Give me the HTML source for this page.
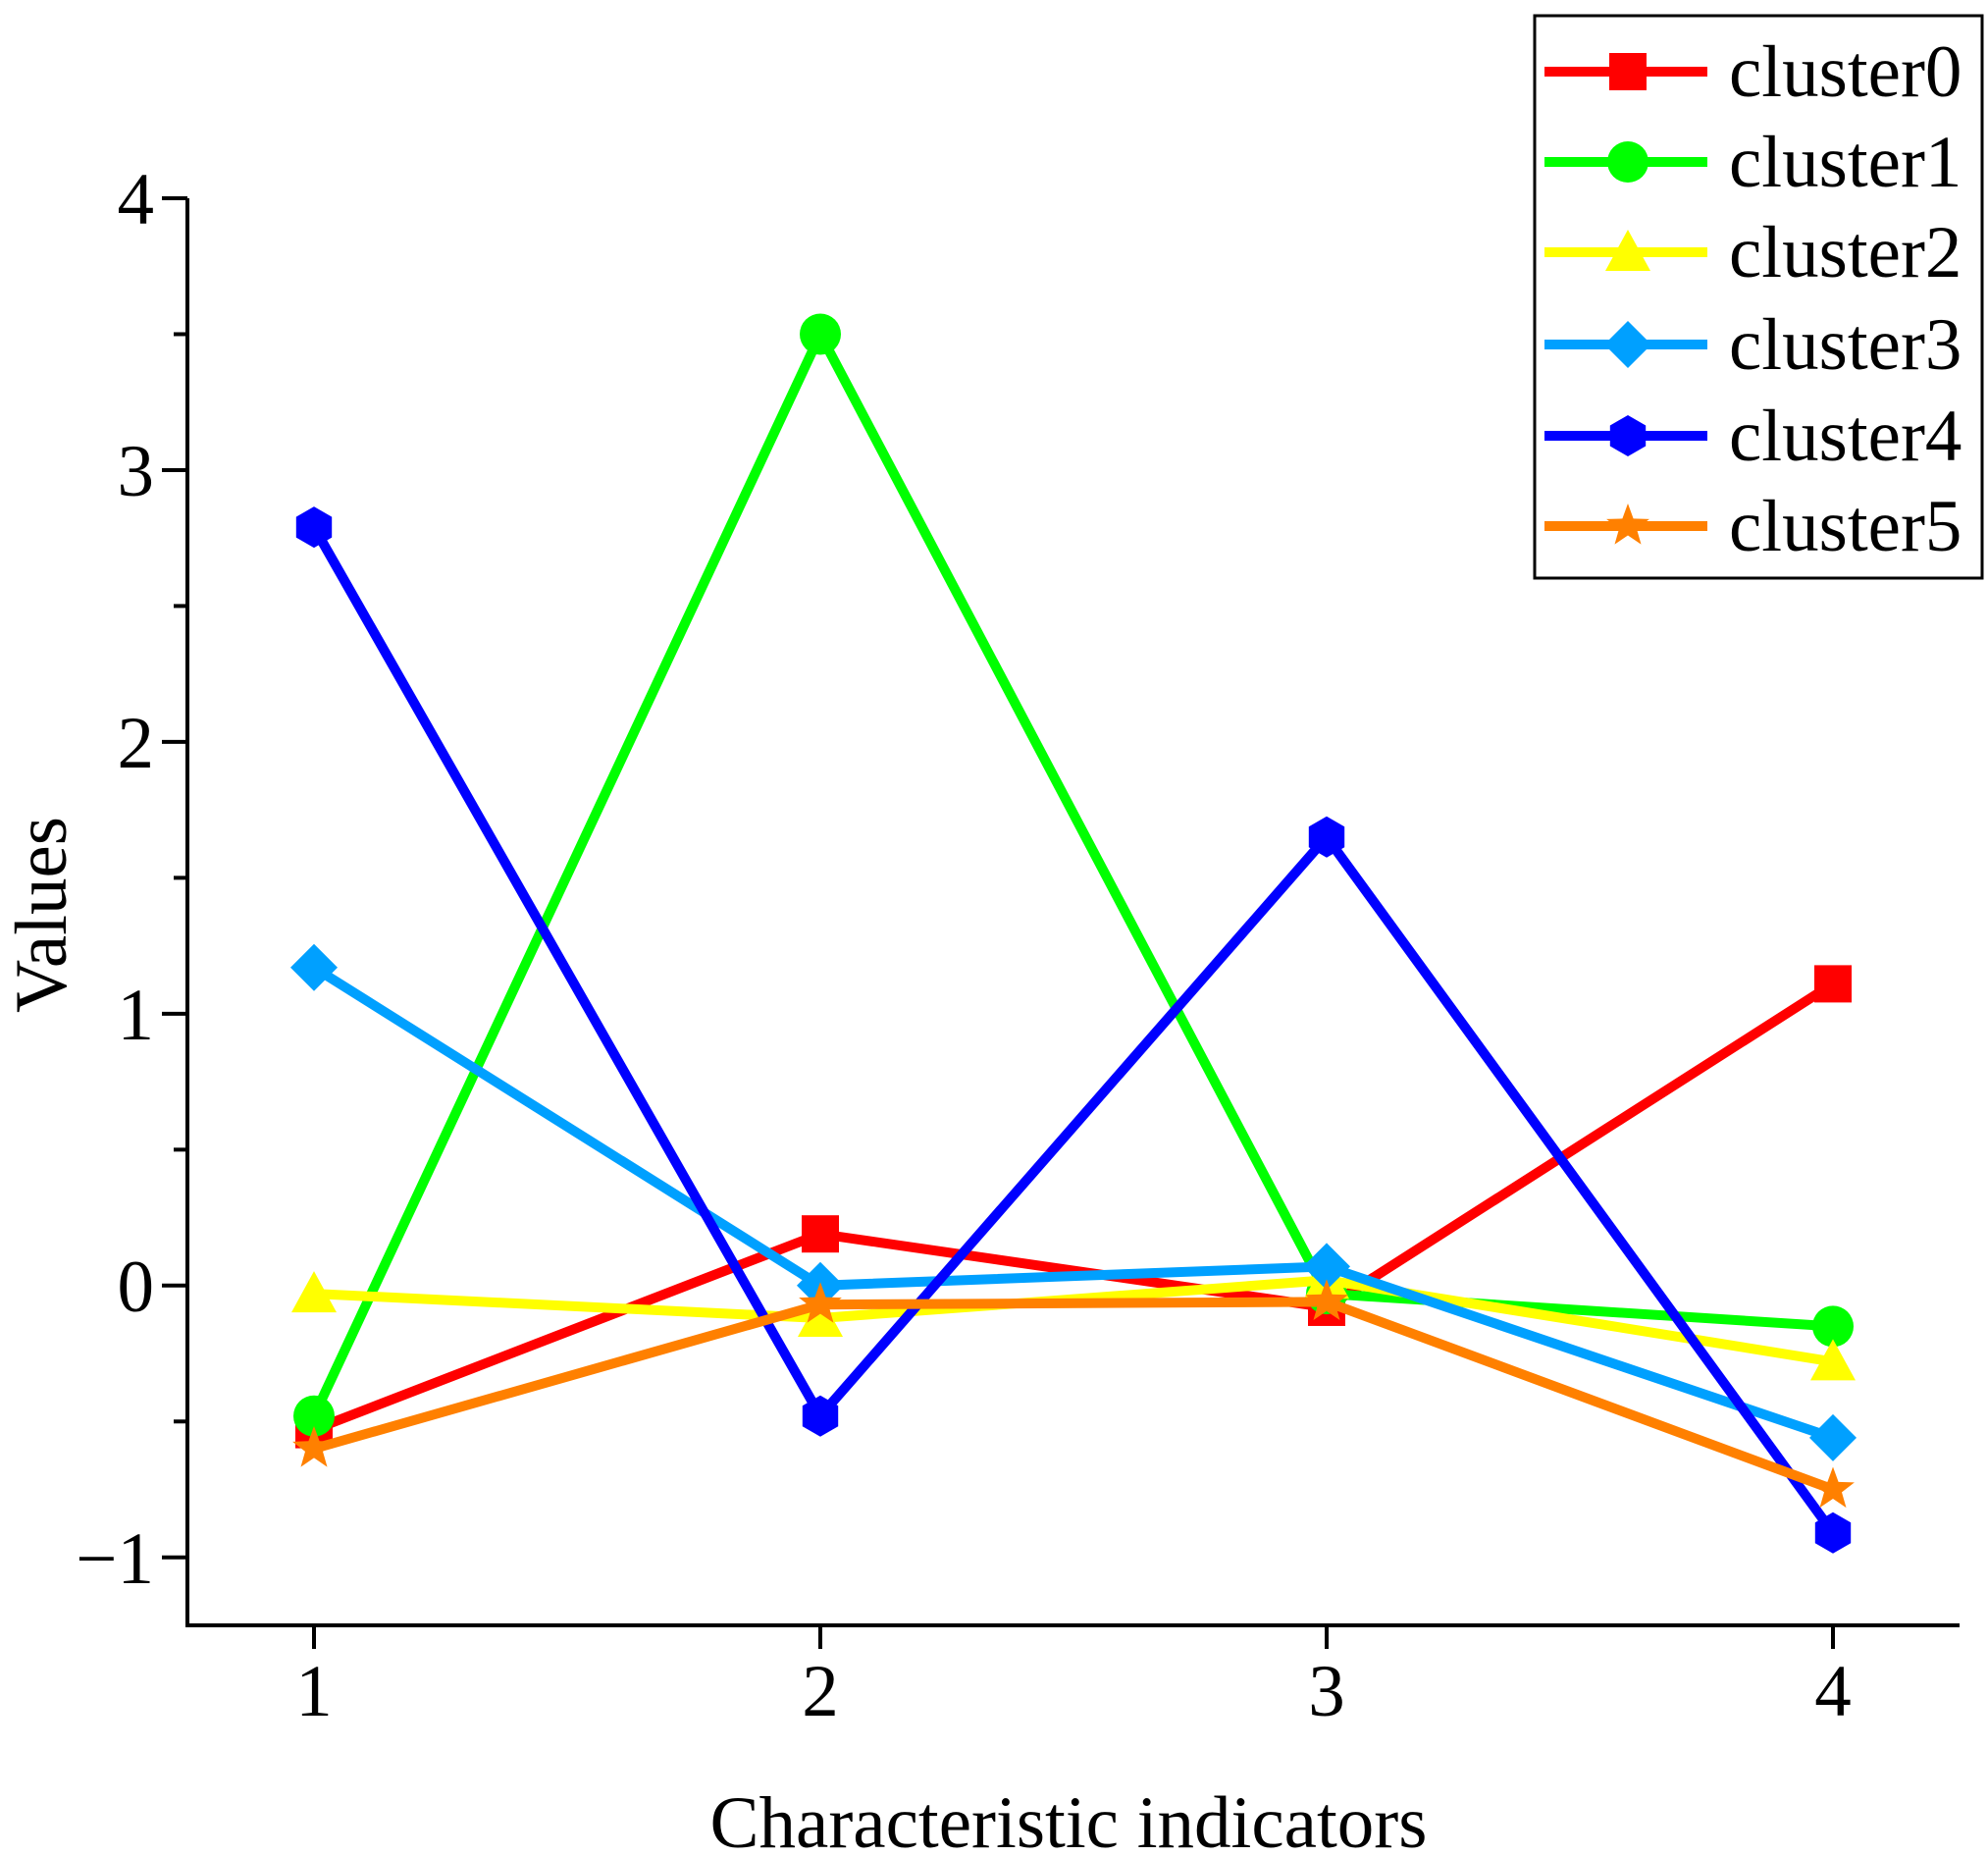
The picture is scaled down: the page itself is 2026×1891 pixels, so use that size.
<!DOCTYPE html>
<html><head><meta charset="utf-8"><style>
html,body{margin:0;padding:0;background:#fff}
svg{display:block;font-family:"Liberation Serif",serif}
</style></head><body>
<svg id="chart" width="2026" height="1891" viewBox="0 0 2026 1891" xmlns="http://www.w3.org/2000/svg">
<g id="axes"></g>
<g id="series"></g>
<g id="legend"></g>
</svg>
<script>
const categories = [1, 2, 3, 4];
const seriesNames = ["cluster0","cluster1","cluster2","cluster3","cluster4","cluster5"];
const cluster0 = [-0.53, 0.19, -0.08, 1.11];
const cluster1 = [-0.48, 3.50, -0.03, -0.15];
const cluster2 = [-0.03, -0.12, 0.02, -0.28];
const cluster3 = [1.17, 0.00, 0.07, -0.56];
const cluster4 = [2.79, -0.48, 1.65, -0.91];
const cluster5 = [-0.60, -0.07, -0.06, -0.75];
const yTicks = [-1, 0, 1, 2, 3, 4];
const yTickLabels = ["\u22121", "0", "1", "2", "3", "4"];
const yMinorTicks = [-0.5, 0.5, 1.5, 2.5, 3.5];
const xTickLabels = ["1", "2", "3", "4"];

const seriesData = [cluster0, cluster1, cluster2, cluster3, cluster4, cluster5];
const colors = ["#ff0000","#00ff00","#ffff00","#00a0ff","#0000ff","#ff8000"];
const markers = ["square","circle","triangle","diamond","hexagon","star"];
const NS = "http://www.w3.org/2000/svg";
const L = 191, R = 1997, T = 202, B = 1656;
const xMin = 0.75, xMax = 4.25, yMin = -1.25, yMax = 4;
function xs(v){ return L + (v - xMin) / (xMax - xMin) * (R - L); }
function ys(v){ return B - (v - yMin) / (yMax - yMin) * (B - T); }
function mk(tag, attrs, parent){ const e = document.createElementNS(NS, tag); for (const k in attrs) e.setAttribute(k, attrs[k]); parent.appendChild(e); return e; }

const axes = document.getElementById("axes");
let e = mk("line", {x1:L, y1:T, x2:L, y2:B, stroke:"#000", "stroke-width":4}, axes);


e = mk("line", {x1:L-2, y1:B, x2:R, y2:B, stroke:"#000", "stroke-width":4}, axes);


yTicks.forEach((v, i) => {
  const t = mk("line", {x1:L-26, y1:ys(v), x2:L, y2:ys(v), stroke:"#000", "stroke-width":4}, axes);
  
  
  const lb = mk("text", {x:L-34, y:ys(v)+26, "text-anchor":"end", "font-size":75}, axes);
  lb.textContent = yTickLabels[i];
  
  
});
yMinorTicks.forEach(v => {
  const t = mk("line", {x1:L-14, y1:ys(v), x2:L, y2:ys(v), stroke:"#000", "stroke-width":4}, axes);
  
  
});
categories.forEach((c, i) => {
  const t = mk("line", {x1:xs(c), y1:B, x2:xs(c), y2:B+24, stroke:"#000", "stroke-width":4}, axes);
  
  
  const lb = mk("text", {x:xs(c), y:1748, "text-anchor":"middle", "font-size":75}, axes);
  lb.textContent = xTickLabels[i];
  
  
});
e = mk("text", {x:(L+R)/2 - 5, y:1882, "text-anchor":"middle", "font-size":75}, axes);
e.textContent = "Characteristic indicators";


e = mk("text", {x:0, y:0, "text-anchor":"middle", "font-size":75, transform:"translate(67,932) rotate(-90)"}, axes);
e.textContent = "Values";



function marker(type, cx, cy, color, parent){
  const s = 21; let m;
  if (type === "square") m = mk("rect", {x:cx-s+2, y:cy-s+2, width:2*s-4, height:2*s-4, fill:color}, parent);
  else if (type === "circle") m = mk("circle", {cx:cx, cy:cy, r:s, fill:color}, parent);
  else if (type === "triangle") m = mk("polygon", {points:`${cx},${cy-s-2} ${cx+s+2},${cy+s-2} ${cx-s-2},${cy+s-2}`, fill:color}, parent);
  else if (type === "diamond") m = mk("polygon", {points:`${cx},${cy-s-3} ${cx+s+3},${cy} ${cx},${cy+s+3} ${cx-s-3},${cy}`, fill:color}, parent);
  else if (type === "hexagon") { let p=[]; for(let k=0;k<6;k++){const a=Math.PI/6+k*Math.PI/3; p.push((cx+s*Math.cos(a)).toFixed(1)+","+(cy+s*Math.sin(a)).toFixed(1));} m = mk("polygon", {points:p.join(" "), fill:color}, parent); }
  else { let p=[]; for(let k=0;k<10;k++){const a=-Math.PI/2+k*Math.PI/5; const r=k%2?s*0.45:s+2; p.push((cx+r*Math.cos(a)).toFixed(1)+","+(cy+r*Math.sin(a)).toFixed(1));} m = mk("polygon", {points:p.join(" "), fill:color}, parent); }
  return m;
}

const sg = document.getElementById("series");
seriesData.forEach((vals, si) => {
  const g = mk("g", {}, sg);
  
  
  const pts = vals.map((v, i) => xs(categories[i]).toFixed(1) + "," + ys(v).toFixed(1)).join(" ");
  const pl = mk("polyline", {points:pts, fill:"none", stroke:colors[si], "stroke-width":10, "stroke-linejoin":"miter"}, g);
  
  
  vals.forEach((v, i) => {
    const m = marker(markers[si], xs(categories[i]), ys(v), colors[si], g);
    
    
  });
});

const lg = document.getElementById("legend");
e = mk("rect", {x:1564, y:16, width:456, height:573, fill:"#fff", stroke:"#000", "stroke-width":3}, lg);


const legendY = [73, 165, 257, 351, 444, 536];
seriesNames.forEach((n, i) => {
  const g = mk("g", {}, lg);
  
  
  mk("line", {x1:1574, y1:legendY[i], x2:1740, y2:legendY[i], stroke:colors[i], "stroke-width":10}, g);
  marker(markers[i], 1659, legendY[i], colors[i], g);
  const t = mk("text", {x:1762, y:legendY[i]+25, "font-size":75}, g);
  t.textContent = n;
  
  
});
</script>
</body></html>
